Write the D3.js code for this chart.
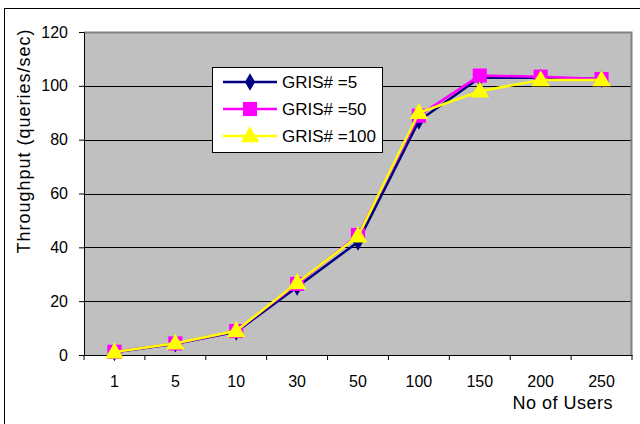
<!DOCTYPE html>
<html>
<head>
<meta charset="utf-8">
<script src="https://cdn.jsdelivr.net/npm/d3@7"></script>
<style>
  body { margin: 0; background: #fff; }
  svg { display: block; font-family: Arial, "Liberation Sans", sans-serif; }
</style>
</head>
<body>
<svg id="chart"></svg>
<script>
const users = ['1', '5', '10', '30', '50', '100', '150', '200', '250'];
const gris5 = [1, 4.2, 8.6, 25.3, 42, 87, 103, 103, 102.5];
const gris50 = [1.2, 4.3, 8.9, 26.4, 44.6, 88.9, 103.8, 103.4, 102.5];
const gris100 = [1.1, 4.4, 9, 26.8, 44.2, 90, 98, 102.2, 102.2];
const yTicks = [0, 20, 40, 60, 80, 100, 120];

const series = [
  { name: 'GRIS# =5', values: gris5, color: '#000080', shape: 'diamond' },
  { name: 'GRIS# =50', values: gris50, color: '#FF00FF', shape: 'square' },
  { name: 'GRIS# =100', values: gris100, color: '#FFFF00', shape: 'triangle' }
];

const W = 640, H = 424;
const margin = { top: 32, right: 8, bottom: 69, left: 84 };
const width = W - margin.left - margin.right;
const height = H - margin.top - margin.bottom;

const root = d3.select('#chart').attr('width', W).attr('height', H);

// outer frame
root.append('rect')
  .attr('x', 4.5).attr('y', 8.5)
  .attr('width', 640).attr('height', 430)
  .attr('fill', '#fff').attr('stroke', '#000');

const svg = root.append('g')
  .attr('transform', `translate(${margin.left},${margin.top})`);

const x = d3.scaleBand().domain(users).range([0, width]);
const y = d3.scaleLinear().domain([0, 120]).range([height, 0]);

svg.append('rect')
  .attr('width', width).attr('height', height)
  .attr('fill', '#C0C0C0');

// gridlines
svg.append('g')
  .selectAll('line')
  .data(yTicks.filter(d => d > 0 && d < 120))
  .enter().append('line')
  .attr('x1', 0).attr('x2', width)
  .attr('y1', d => Math.round(y(d)) + 0.5).attr('y2', d => Math.round(y(d)) + 0.5)
  .attr('stroke', '#000');

// top and right frame of plot
svg.append('path')
  .attr('d', `M0,0.5H${width - 0.5}V${height}`)
  .attr('fill', 'none').attr('stroke', '#808080').attr('stroke-width', 2);

// axes
const yAxis = svg.append('g')
  .call(d3.axisLeft(y).tickValues(yTicks).tickSize(5).tickPadding(11).tickSizeOuter(0));
const xAxis = svg.append('g')
  .attr('transform', `translate(0,${height})`)
  .call(d3.axisBottom(x).tickSize(0).tickPadding(21));
xAxis.selectAll('.tick').append('line')
  .attr('x1', -x.bandwidth() / 2).attr('x2', -x.bandwidth() / 2)
  .attr('y1', 0).attr('y2', 5).attr('stroke', '#000');
xAxis.append('line')
  .attr('x1', width).attr('x2', width)
  .attr('y1', 0).attr('y2', 5).attr('stroke', '#000');

[yAxis, xAxis].forEach(a => {
  a.selectAll('text').style('font-size', '16px').attr('fill', '#000')
    .style('font-family', 'Arial, "Liberation Sans", sans-serif');
  a.selectAll('.domain').attr('stroke', '#000');
});

// axis titles
root.append('text')
  .attr('transform', 'rotate(-90)')
  .attr('x', -141).attr('y', 30)
  .attr('text-anchor', 'middle')
  .style('font-size', '18px')
  .style('letter-spacing', '1px')
  .text('Throughput (queries/sec)');

root.append('text')
  .attr('x', 613).attr('y', 409)
  .attr('text-anchor', 'end')
  .style('font-size', '18px')
  .style('letter-spacing', '0.5px')
  .text('No of Users');

const cx = d => x(d) + x.bandwidth() / 2;
const symbolFor = s => ({
  diamond: d3.symbol().type(d3.symbolDiamond).size(90),
  square: d3.symbol().type(d3.symbolSquare).size(200),
  triangle: d3.symbol().type(d3.symbolTriangle).size(150)
}[s]);

const line = d3.line().x(d => cx(d[0])).y(d => y(d[1]));

series.forEach(s => {
  const pts = users.map((u, i) => [u, s.values[i]]);
  svg.append('path')
    .datum(pts)
    .attr('d', line)
    .attr('fill', 'none')
    .attr('stroke', s.color)
    .attr('stroke-width', 2.5);
  svg.append('g')
    .selectAll('path')
    .data(pts)
    .enter().append('path')
    .attr('d', symbolFor(s.shape))
    .attr('transform', d => `translate(${cx(d[0])},${y(d[1]) + (s.shape === 'triangle' ? 1 : 0)})`)
    .attr('fill', s.color);
});

// legend
const legend = root.append('g').attr('transform', 'translate(212,67)');
legend.append('rect')
  .attr('x', 0.5).attr('y', 0.5)
  .attr('width', 170).attr('height', 85)
  .attr('fill', '#fff').attr('stroke', '#000');

const rows = legend.selectAll('g.row')
  .data(series)
  .enter().append('g')
  .attr('class', 'row')
  .attr('transform', (d, i) => `translate(0,${15 + i * 27})`);
rows.append('line')
  .attr('x1', 11).attr('x2', 65)
  .attr('stroke', d => d.color).attr('stroke-width', 2.5);
rows.append('path')
  .attr('d', d => symbolFor(d.shape)())
  .attr('transform', d => `translate(38,${d.shape === 'triangle' ? 1 : 0})`)
  .attr('fill', d => d.color);
rows.append('text')
  .attr('x', 70).attr('y', 6)
  .style('font-size', '17px')
  .text(d => d.name);
</script>
</body>
</html>
